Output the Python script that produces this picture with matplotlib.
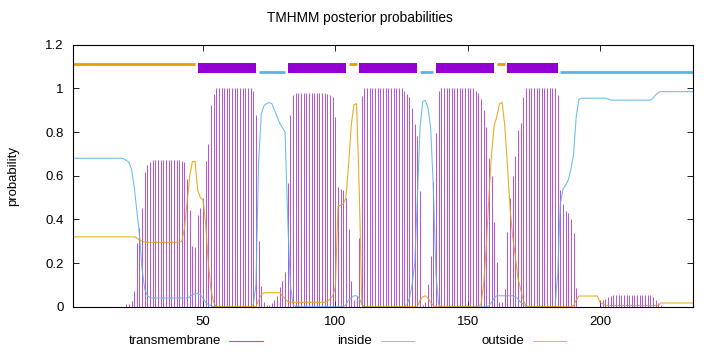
import numpy as np
import matplotlib
matplotlib.use("Agg")
import matplotlib.pyplot as plt
from matplotlib.lines import Line2D

plt.rcParams['font.family'] = ['Liberation Sans', 'DejaVu Sans']

# ---------------- data (per residue 1..235) ----------------
residues = np.arange(1, 236)

tm = [
    0, 0, 0, 0, 0, 0, 0, 0, 0, 0,                                   # 1-10
    0, 0, 0, 0, 0, 0, 0, 0, 0, 0,                                   # 11-20
    0.014, 0.014, 0.027, 0.073, 0.29, 0.36, 0.45, 0.617, 0.65, 0.664,  # 21-30
    0.67, 0.67, 0.67, 0.67, 0.67, 0.67, 0.67, 0.67, 0.67, 0.67,      # 31-40
    0.67, 0.668, 0.664, 0.585, 0.443, 0.28, 0.275, 0.42, 0.45, 0.5,  # 41-50
    0.666, 0.744, 0.925, 0.975, 1, 1, 1, 1, 1, 1,                   # 51-60
    1, 1, 1, 1, 1, 1, 1, 1, 0.99, 0.876,                            # 61-70
    0.30, 0.093, 0.02, 0.01, 0.01, 0.015, 0.03, 0.05, 0.09, 0.12,    # 71-80
    0.16, 0.565, 0.876, 0.97, 0.98, 0.98, 0.98, 0.98, 0.98, 0.98,    # 81-90
    0.98, 0.98, 0.98, 0.98, 0.98, 0.98, 0.975, 0.968, 0.96, 0.868,   # 91-100
    0.546, 0.54, 0.535, 0.5, 0.356, 0.116, 0.03, 0.05, 0.316, 0.965, # 101-110
    1, 1, 1, 1, 1, 1, 1, 1, 1, 1,                                   # 111-120
    1, 1, 1, 1, 1, 0.99, 0.975, 0.96, 0.91, 0.835,                  # 121-130
    0.78, 0.53, 0.01, 0.02, 0.104, 0.23, 0.57, 0.795, 0.99, 1,      # 131-140
    1, 1, 1, 1, 1, 1, 1, 1, 1, 1,                                   # 141-150
    1, 1, 0.99, 0.98, 0.95, 0.9, 0.825, 0.68, 0.6, 0.39,            # 151-160
    0.205, 0.02, 0.02, 0.08, 0.34, 0.5, 0.6, 0.69, 0.81, 0.84,      # 161-170
    0.96, 1, 1, 1, 1, 1, 1, 1, 1, 1,                                # 171-180
    1, 1, 1, 0.97, 0.535, 0.47, 0.44, 0.43, 0.4, 0.336,             # 181-190
    0.084, 0, 0, 0, 0, 0, 0, 0, 0, 0.03,                            # 191-200
    0.03, 0.035, 0.045, 0.05, 0.053, 0.053, 0.053, 0.053, 0.053, 0.053,  # 201-210
    0.053, 0.053, 0.053, 0.053, 0.053, 0.053, 0.053, 0.053, 0.053, 0.045,  # 211-220
    0.032, 0.018, 0.01, 0, 0, 0, 0, 0, 0, 0,                        # 221-230
    0, 0, 0, 0, 0,                                                  # 231-235
]

inside = [
    0.68, 0.68, 0.68, 0.68, 0.68, 0.68, 0.68, 0.68, 0.68, 0.68,     # 1-10
    0.68, 0.68, 0.68, 0.68, 0.68, 0.68, 0.68, 0.68, 0.68, 0.678,    # 11-20
    0.67, 0.662, 0.63, 0.55, 0.44, 0.33, 0.17, 0.08, 0.05, 0.042,   # 21-30
    0.04, 0.04, 0.04, 0.04, 0.04, 0.04, 0.04, 0.04, 0.04, 0.04,     # 31-40
    0.04, 0.04, 0.04, 0.04, 0.045, 0.055, 0.06, 0.06, 0.055, 0.04,  # 41-50
    0.02, 0.01, 0.005, 0, 0, 0, 0, 0, 0, 0,                         # 51-60
    0, 0, 0, 0, 0, 0, 0, 0, 0.01, 0.1,                              # 61-70
    0.66, 0.88, 0.92, 0.93, 0.935, 0.93, 0.9, 0.87, 0.84, 0.82,     # 71-80
    0.8, 0.4, 0.1, 0.01, 0, 0, 0, 0, 0, 0,                          # 81-90
    0, 0, 0, 0, 0, 0, 0, 0, 0, 0,                                   # 91-100
    0, 0, 0, 0.01, 0.03, 0.04, 0.05, 0.05, 0.04, 0.01,              # 101-110
    0, 0, 0, 0, 0, 0, 0, 0, 0, 0,                                   # 111-120
    0, 0, 0, 0, 0, 0, 0.01, 0.04, 0.1, 0.2,                         # 121-130
    0.5, 0.82, 0.94, 0.945, 0.91, 0.82, 0.55, 0.15, 0.01, 0,        # 131-140
    0, 0, 0, 0, 0, 0, 0, 0, 0, 0,                                   # 141-150
    0, 0, 0, 0, 0, 0, 0, 0.005, 0.02, 0.04,                         # 151-160
    0.05, 0.05, 0.05, 0.05, 0.05, 0.05, 0.05, 0.045, 0.035, 0.02,   # 161-170
    0.01, 0, 0, 0, 0, 0, 0, 0, 0, 0,                                # 171-180
    0, 0, 0, 0.15, 0.47, 0.54, 0.557, 0.58, 0.63, 0.7,              # 181-190
    0.87, 0.95, 0.955, 0.955, 0.955, 0.955, 0.955, 0.955, 0.955, 0.955,  # 191-200
    0.955, 0.955, 0.952, 0.946, 0.946, 0.946, 0.946, 0.946, 0.946, 0.946,  # 201-210
    0.946, 0.946, 0.946, 0.946, 0.946, 0.946, 0.946, 0.946, 0.946, 0.955,  # 211-220
    0.97, 0.98, 0.985, 0.985, 0.985, 0.985, 0.985, 0.985, 0.985, 0.985,  # 221-230
    0.985, 0.985, 0.985, 0.985, 0.985,                              # 231-235
]

outside = [
    0.32, 0.32, 0.32, 0.32, 0.32, 0.32, 0.32, 0.32, 0.32, 0.32,     # 1-10
    0.32, 0.32, 0.32, 0.32, 0.32, 0.32, 0.32, 0.32, 0.32, 0.32,     # 11-20
    0.32, 0.32, 0.32, 0.32, 0.315, 0.305, 0.3, 0.297, 0.295, 0.295, # 21-30
    0.295, 0.295, 0.295, 0.295, 0.295, 0.295, 0.295, 0.295, 0.295, 0.295,  # 31-40
    0.295, 0.3, 0.36, 0.48, 0.6, 0.665, 0.665, 0.535, 0.5, 0.49,    # 41-50
    0.38, 0.2, 0.08, 0.02, 0, 0, 0, 0, 0, 0,                        # 51-60
    0, 0, 0, 0, 0, 0, 0, 0, 0, 0,                                   # 61-70
    0.03, 0.055, 0.064, 0.064, 0.064, 0.064, 0.064, 0.064, 0.064, 0.05,  # 71-80
    0.035, 0.025, 0.02, 0.02, 0.02, 0.02, 0.02, 0.02, 0.02, 0.02,   # 81-90
    0.02, 0.02, 0.02, 0.02, 0.02, 0.02, 0.025, 0.035, 0.05, 0.09,   # 91-100
    0.46, 0.465, 0.47, 0.5, 0.65, 0.83, 0.925, 0.93, 0.55, 0.01,    # 101-110
    0, 0, 0, 0, 0, 0, 0, 0, 0, 0,                                   # 111-120
    0, 0, 0, 0, 0, 0, 0, 0, 0, 0,                                   # 121-130
    0, 0.03, 0.045, 0.05, 0.04, 0.02, 0.005, 0, 0, 0,               # 131-140
    0, 0, 0, 0, 0, 0, 0, 0, 0, 0,                                   # 141-150
    0, 0, 0, 0.005, 0.01, 0.1, 0.27, 0.5, 0.7, 0.83,                # 151-160
    0.87, 0.93, 0.935, 0.83, 0.65, 0.45, 0.32, 0.23, 0.13, 0.08,    # 161-170
    0.03, 0.005, 0, 0, 0, 0, 0, 0, 0, 0,                            # 171-180
    0, 0, 0, 0, 0, 0, 0, 0, 0, 0.005,                               # 181-190
    0.03, 0.049, 0.049, 0.049, 0.049, 0.049, 0.049, 0.049, 0.049, 0.02,  # 191-200
    0.015, 0.006, 0.006, 0.006, 0.006, 0.006, 0.006, 0.006, 0.006, 0.006,  # 201-210
    0.006, 0.006, 0.006, 0.006, 0.006, 0.006, 0.006, 0.006, 0.006, 0.006,  # 211-220
    0.006, 0.006, 0.017, 0.017, 0.017, 0.017, 0.017, 0.017, 0.017, 0.017,  # 221-230
    0.017, 0.017, 0.017, 0.017, 0.017,                              # 231-235
]

# predicted topology segments (start, end residue)
seg_outside = [(1, 47), (105, 108), (161, 164)]
seg_tm = [(48, 70), (82, 104), (109, 131), (138, 160), (165, 184)]
seg_inside = [(71, 81), (132, 137), (185, 235)]

xticks = [50, 100, 150, 200]
yticks = [0, 0.2, 0.4, 0.6, 0.8, 1.0, 1.2]
ytick_labels = ["0", "0.2", "0.4", "0.6", "0.8", "1", "1.2"]

C_TM = "#9400d3"
C_IN = "#56b4e9"
C_OUT = "#e69f00"
FS = 9.5

# ---------------- figure ----------------
W, H = 720, 352
fig = plt.figure(figsize=(W / 100, H / 100), dpi=100)
L, R, T, B = 73.3, 692.7, 44.7, 306.7
ax = fig.add_axes([L / W, 1 - B / H, (R - L) / W, (B - T) / H])

ax.vlines(residues, 0, tm, color=C_TM, lw=0.6, alpha=0.8)
ax.plot(residues, inside, color=C_IN, lw=0.8, alpha=0.85)
ax.plot(residues, outside, color=C_OUT, lw=0.8, alpha=0.85)

for a, b in seg_outside:
    ax.plot([a, b], [1.113, 1.113], color=C_OUT, lw=2.0, solid_capstyle='butt')
for a, b in seg_inside:
    ax.plot([a, b], [1.074, 1.074], color=C_IN, lw=2.0, solid_capstyle='butt')
for a, b in seg_tm:
    ax.plot([a, b], [1.093, 1.093], color=C_TM, lw=7.2, solid_capstyle='butt')

ax.set_xlim(1, 235)
ax.set_ylim(0, 1.2)
ax.set_xticks(xticks)
ax.set_xticklabels([str(v) for v in xticks])
ax.set_yticks(yticks)
ax.set_yticklabels(ytick_labels)
ax.tick_params(direction='in', length=4, width=0.6, top=True, right=True,
               labelsize=FS, colors='black')
ax.tick_params(axis='y', pad=7)
ax.tick_params(axis='x', pad=7)
for s in ax.spines.values():
    s.set_linewidth(0.8)
    s.set_color('black')

fig.text(0.5, 1 - 18 / H, "TMHMM posterior probabilities", ha='center', va='center',
         fontsize=FS + 0.3)
fig.text(13.5 / W, 1 - 176.5 / H, "probability", rotation=90, ha='center', va='center',
         fontsize=FS)

# key (gnuplot style: text, then sample line)
ky = 1 - 341 / H
for label, col, text_end, x0, x1 in [("transmembrane", C_TM, 221, 229, 263),
                                     ("inside", C_IN, 372, 381, 414),
                                     ("outside", C_OUT, 524, 533, 566)]:
    fig.text(text_end / W, ky, label, ha='right', va='center', fontsize=FS)
    fig.add_artist(Line2D([x0 / W, x1 / W], [ky, ky], color=col, lw=0.8, alpha=0.7,
                          transform=fig.transFigure))

fig.savefig("out.png", dpi=100)
